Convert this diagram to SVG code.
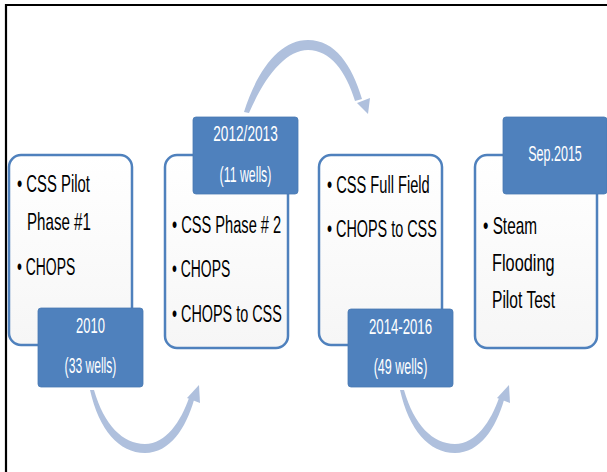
<svg xmlns="http://www.w3.org/2000/svg" width="607" height="472" viewBox="0 0 607 472">
<defs>
<linearGradient id="boxfill" x1="0" y1="0" x2="0" y2="1">
<stop offset="0" stop-color="#ffffff"/>
<stop offset="1" stop-color="#f6f6f6"/>
</linearGradient>
<style>
.box{fill:url(#boxfill);stroke:#4F81BD;stroke-width:2.5}
.lab{fill:#4F81BD;stroke:#4A7AB3;stroke-width:0.8}
.t{font-family:"Liberation Sans",Arial,sans-serif;font-size:24px;fill:#000}
.w{font-family:"Liberation Sans",Arial,sans-serif;font-size:22px;fill:#fff;text-anchor:middle}
.arc{fill:#AFC0DD}
.frame{stroke:#000;stroke-width:2.2;fill:none}
</style>
</defs>
<rect x="0" y="0" width="607" height="472" fill="#fff"/>
<path class="frame" d="M6,472 V5 H607"/>

<g id="connectors">
<path class="arc" d="M90,390 C99,430 119,453 145,453 C170,453 186,428 194,400 L189,398 C181,421 166,444 145,444 C123,444 104,425 94,390 Z"/>
<polygon class="arc" points="199,385 187,398 200,403"/>
<path class="arc" d="M244,112 C257,70 280,40 308,40 C335,40 352,65 362,99 L355,101 C346,71 330,50 308,50 C286,50 265,76 249,113 Z"/>
<polygon class="arc" points="368,114 357,103 370,98"/>
<path class="arc" d="M400,390 C409,430 429,453 455,453 C480,453 496,428 504,400 L499,398 C491,421 476,444 455,444 C433,444 414,425 404,390 Z"/>
<polygon class="arc" points="509,385 497,398 510,403"/>
</g>

<g id="node1">
<rect class="box" x="9" y="155" width="123" height="190" rx="12"/>
<text class="t" transform="translate(17,192) scale(0.62,1)">• CSS Pilot</text>
<text class="t" transform="translate(27,230) scale(0.63,1)">Phase #1</text>
<text class="t" transform="translate(17,275) scale(0.58,1)">• CHOPS</text>
<rect class="lab" x="38" y="308" width="105" height="79" rx="3"/>
<text class="w" transform="translate(90.5,333) scale(0.59,1)">2010</text>
<text class="w" transform="translate(90.5,373) scale(0.55,1)">(33 wells)</text>
</g>

<g id="node2">
<rect class="box" x="165" y="155" width="123" height="193" rx="12"/>
<text class="t" transform="translate(172,233) scale(0.61,1)">• CSS Phase # 2</text>
<text class="t" transform="translate(172,277) scale(0.58,1)">• CHOPS</text>
<text class="t" transform="translate(172,322) scale(0.6,1)">• CHOPS to CSS</text>
<rect class="lab" x="193" y="117" width="105" height="77" rx="3"/>
<text class="w" transform="translate(245.5,141) scale(0.62,1)">2012/2013</text>
<text class="w" transform="translate(245.5,182) scale(0.56,1)">(11 wells)</text>
</g>

<g id="node3">
<rect class="box" x="319" y="155" width="123" height="190" rx="12"/>
<text class="t" transform="translate(327,193) scale(0.61,1)">• CSS Full Field</text>
<text class="t" transform="translate(327,237) scale(0.6,1)">• CHOPS to CSS</text>
<rect class="lab" x="348" y="309" width="105" height="78" rx="3"/>
<text class="w" transform="translate(400.5,334) scale(0.6,1)">2014-2016</text>
<text class="w" transform="translate(400.5,374) scale(0.57,1)">(49 wells)</text>
</g>

<g id="node4">
<rect class="box" x="475" y="155" width="122" height="193" rx="12"/>
<text class="t" transform="translate(483,234) scale(0.64,1)">• Steam</text>
<text class="t" transform="translate(492,271) scale(0.68,1)">Flooding</text>
<text class="t" transform="translate(492,308) scale(0.65,1)">Pilot Test</text>
<rect class="lab" x="503" y="117" width="104" height="77" rx="3"/>
<text class="w" transform="translate(555,161) scale(0.57,1)">Sep.2015</text>
</g>
</svg>
